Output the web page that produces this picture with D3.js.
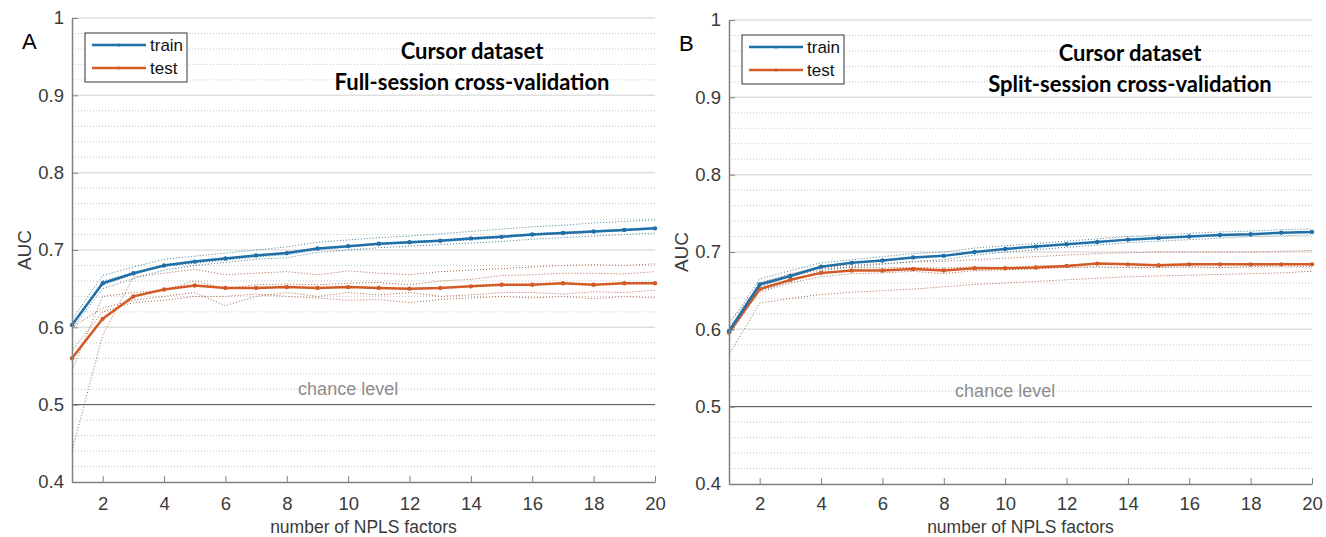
<!DOCTYPE html>
<html>
<head>
<meta charset="utf-8">
<script src="https://cdn.jsdelivr.net/npm/d3@7"></script>
<style>
  html, body { margin: 0; padding: 0; background: #fff; }
  svg { display: block; }
</style>
</head>
<body>
<svg id="chart" width="1326" height="537"></svg>
<script>
// NPLS factor counts on the x axis
const factors = d3.range(1, 21);
const xTicks = [2, 4, 6, 8, 10, 12, 14, 16, 18, 20];
const yTicks = [0.4, 0.5, 0.6, 0.7, 0.8, 0.9, 1];
const seriesNames = ["train", "test"];

// Panel A: full-session cross-validation (mean AUC)
const trainA = [0.603, 0.657, 0.670, 0.680, 0.685, 0.689, 0.693, 0.696, 0.702, 0.705,
                0.708, 0.710, 0.712, 0.715, 0.717, 0.720, 0.722, 0.724, 0.726, 0.728];
const testA  = [0.560, 0.611, 0.640, 0.649, 0.654, 0.651, 0.651, 0.652, 0.651, 0.652,
                0.651, 0.650, 0.651, 0.653, 0.655, 0.655, 0.657, 0.655, 0.657, 0.657];
// Panel A: individual folds
const trainFoldsA = [
  [0.610, 0.667, 0.678, 0.688, 0.692, 0.696, 0.700, 0.704, 0.710, 0.713, 0.716, 0.718, 0.721, 0.724, 0.727, 0.730, 0.732, 0.735, 0.737, 0.739],
  [0.598, 0.650, 0.663, 0.674, 0.680, 0.684, 0.688, 0.690, 0.697, 0.700, 0.703, 0.705, 0.707, 0.709, 0.711, 0.714, 0.716, 0.718, 0.720, 0.722],
  [0.603, 0.660, 0.670, 0.679, 0.683, 0.687, 0.691, 0.694, 0.700, 0.704, 0.707, 0.709, 0.711, 0.713, 0.716, 0.719, 0.721, 0.723, 0.725, 0.727],
  [0.605, 0.655, 0.668, 0.681, 0.686, 0.690, 0.694, 0.697, 0.702, 0.705, 0.708, 0.711, 0.713, 0.716, 0.718, 0.721, 0.723, 0.725, 0.727, 0.729]
];
const testFoldsA = [
  [0.440, 0.590, 0.665, 0.670, 0.675, 0.668, 0.670, 0.672, 0.668, 0.673, 0.670, 0.668, 0.672, 0.674, 0.676, 0.678, 0.680, 0.681, 0.680, 0.682],
  [0.545, 0.640, 0.645, 0.648, 0.660, 0.650, 0.655, 0.656, 0.655, 0.657, 0.658, 0.655, 0.660, 0.662, 0.667, 0.668, 0.670, 0.670, 0.669, 0.672],
  [0.600, 0.625, 0.635, 0.640, 0.645, 0.628, 0.640, 0.645, 0.640, 0.645, 0.642, 0.645, 0.640, 0.642, 0.645, 0.645, 0.643, 0.646, 0.645, 0.648],
  [0.570, 0.620, 0.632, 0.635, 0.640, 0.640, 0.643, 0.640, 0.638, 0.635, 0.636, 0.632, 0.636, 0.638, 0.640, 0.638, 0.640, 0.637, 0.640, 0.638]
];

// Panel B: split-session cross-validation (mean AUC)
const trainB = [0.598, 0.658, 0.669, 0.681, 0.686, 0.689, 0.693, 0.695, 0.700, 0.704,
                0.707, 0.710, 0.713, 0.716, 0.718, 0.720, 0.722, 0.723, 0.725, 0.726];
const testB  = [0.596, 0.652, 0.664, 0.673, 0.676, 0.676, 0.678, 0.676, 0.679, 0.679,
                0.680, 0.682, 0.685, 0.684, 0.683, 0.684, 0.684, 0.684, 0.684, 0.684];
// Panel B: individual folds
const trainFoldsB = [
  [0.605, 0.665, 0.676, 0.686, 0.690, 0.694, 0.698, 0.700, 0.705, 0.708, 0.711, 0.714, 0.717, 0.720, 0.722, 0.724, 0.726, 0.727, 0.729, 0.730],
  [0.592, 0.650, 0.662, 0.676, 0.681, 0.684, 0.688, 0.690, 0.696, 0.700, 0.703, 0.706, 0.709, 0.712, 0.714, 0.716, 0.718, 0.720, 0.721, 0.722],
  [0.598, 0.660, 0.670, 0.682, 0.686, 0.690, 0.693, 0.695, 0.700, 0.704, 0.707, 0.710, 0.713, 0.716, 0.718, 0.720, 0.722, 0.723, 0.725, 0.726]
];
const testFoldsB = [
  [0.567, 0.634, 0.640, 0.645, 0.648, 0.650, 0.652, 0.655, 0.658, 0.660, 0.662, 0.664, 0.666, 0.668, 0.669, 0.670, 0.671, 0.672, 0.673, 0.675],
  [0.600, 0.660, 0.672, 0.680, 0.683, 0.685, 0.687, 0.688, 0.690, 0.692, 0.694, 0.696, 0.698, 0.699, 0.700, 0.700, 0.700, 0.700, 0.701, 0.702],
  [0.610, 0.655, 0.668, 0.678, 0.680, 0.679, 0.680, 0.679, 0.681, 0.680, 0.682, 0.683, 0.685, 0.684, 0.682, 0.683, 0.684, 0.683, 0.684, 0.685],
  [0.600, 0.648, 0.660, 0.668, 0.672, 0.673, 0.675, 0.672, 0.676, 0.677, 0.678, 0.680, 0.681, 0.680, 0.680, 0.681, 0.680, 0.681, 0.682, 0.681]
];

const chanceLevel = 0.5;
const colors = { train: "#1f6fa8", test: "#d35a24" };
const foldColors = { train: "#2a6f8f", test: "#a0522d" };

const svg = d3.select("#chart");
const tickFont = "'Liberation Sans', Arial, sans-serif";

function drawPanel(cfg) {
  const x = d3.scaleLinear().domain([1, 20]).range([cfg.left, cfg.left + 583]);
  const y = d3.scaleLinear().domain([0.4, 1]).range([cfg.bottom, cfg.bottom - 464]);
  const g = svg.append("g");

  // minor dotted grid every 0.02
  const minor = d3.range(0.42, 1.0, 0.02).filter(v => Math.abs(v * 10 - Math.round(v * 10)) > 1e-6);
  g.selectAll(".minor").data(minor).join("line")
    .attr("x1", x(1)).attr("x2", x(20))
    .attr("y1", d => y(d)).attr("y2", d => y(d))
    .attr("stroke", "#c4c4c4").attr("stroke-width", 1)
    .attr("stroke-dasharray", "1,2");

  // major grid
  g.selectAll(".major").data([0.6, 0.7, 0.8, 0.9, 1]).join("line")
    .attr("x1", x(1)).attr("x2", x(20))
    .attr("y1", d => y(d)).attr("y2", d => y(d))
    .attr("stroke", "#e0e0e0").attr("stroke-width", 1.5);

  // chance level
  g.append("line")
    .attr("x1", x(1)).attr("x2", x(20))
    .attr("y1", y(chanceLevel)).attr("y2", y(chanceLevel))
    .attr("stroke", "#4a4a4a").attr("stroke-width", 1);
  g.append("text")
    .attr("x", x(10)).attr("y", y(chanceLevel) - 10)
    .attr("text-anchor", "middle")
    .attr("font-family", tickFont).attr("font-size", 18)
    .attr("fill", "#8c8c8c")
    .text("chance level");

  const line = d3.line().x((d, i) => x(factors[i])).y(d => y(d));

  // individual folds, thin dotted
  cfg.testFolds.forEach(f => g.append("path").datum(f).attr("d", line)
    .attr("fill", "none").attr("stroke", foldColors.test).attr("stroke-width", 1)
    .attr("stroke-dasharray", "1,2").attr("opacity", 0.9));
  cfg.trainFolds.forEach(f => g.append("path").datum(f).attr("d", line)
    .attr("fill", "none").attr("stroke", foldColors.train).attr("stroke-width", 1)
    .attr("stroke-dasharray", "1,2").attr("opacity", 0.9));

  // mean curves
  [["test", cfg.test], ["train", cfg.train]].forEach(([name, vals]) => {
    g.append("path").datum(vals).attr("d", line)
      .attr("fill", "none").attr("stroke", colors[name]).attr("stroke-width", 2.5)
      .attr("stroke-linejoin", "round");
    g.selectAll(".pt-" + name).data(vals).join("circle")
      .attr("cx", (d, i) => x(factors[i])).attr("cy", d => y(d))
      .attr("r", 2.2).attr("fill", colors[name]);
  });

  // axes
  const axisColor = "#808080";
  const xAxis = g.append("g").attr("transform", `translate(0,${cfg.bottom})`)
    .call(d3.axisBottom(x).tickValues(xTicks).tickSizeInner(-6).tickSizeOuter(0).tickPadding(cfg.xPad));
  const yAxis = g.append("g").attr("transform", `translate(${cfg.left},0)`)
    .call(d3.axisLeft(y).tickValues(yTicks).tickFormat(d3.format("~g")).tickSizeInner(-6).tickSizeOuter(0).tickPadding(8));
  [xAxis, yAxis].forEach(a => {
    a.select(".domain").attr("stroke", axisColor).attr("stroke-width", 1.5);
    a.selectAll(".tick line").attr("stroke", axisColor);
    a.selectAll(".tick text").attr("font-family", tickFont).attr("font-size", 18.5).attr("fill", "#3a3a3a");
  });

  // axis labels
  g.append("text")
    .attr("x", (x(1) + x(20)) / 2).attr("y", 533)
    .attr("text-anchor", "middle")
    .attr("font-family", tickFont).attr("font-size", 17.5).attr("fill", "#3a3a3a")
    .text("number of NPLS factors");
  g.append("text")
    .attr("transform", `translate(${cfg.left - 41},${(y(0.4) + y(1)) / 2}) rotate(-90)`)
    .attr("text-anchor", "middle")
    .attr("font-family", tickFont).attr("font-size", 19).attr("fill", "#3a3a3a")
    .text("AUC");

  // panel letter
  g.append("text")
    .attr("x", cfg.left - 50).attr("y", cfg.bottom - 433)
    .attr("font-family", tickFont).attr("font-size", 22).attr("fill", "#000")
    .text(cfg.letter);

  // title
  const title = g.append("text")
    .attr("text-anchor", "middle")
    .attr("font-family", "Lato, 'Open Sans', sans-serif").attr("font-weight", "bold")
    .attr("font-size", 22).attr("fill", "#000");
  title.append("tspan").attr("x", cfg.titleX).attr("y", cfg.bottom - 423).text("Cursor dataset");
  title.append("tspan").attr("x", cfg.titleX).attr("y", cfg.bottom - 392).text(cfg.subtitle);

  // legend
  const lg = g.append("g").attr("transform", `translate(${cfg.left + 13},${cfg.bottom - 449})`);
  lg.append("rect").attr("x", 0).attr("y", 0).attr("width", 102).attr("height", 49)
    .attr("fill", "#fff").attr("stroke", "#333").attr("stroke-width", 1);
  seriesNames.forEach((name, i) => {
    const ly = 12 + i * 23;
    lg.append("line").attr("x1", 7).attr("x2", 61).attr("y1", ly).attr("y2", ly)
      .attr("stroke", colors[name]).attr("stroke-width", 2.5);
    lg.append("circle").attr("cx", 34).attr("cy", ly).attr("r", 1.5).attr("fill", colors[name]);
    lg.append("text").attr("x", 65).attr("y", ly + 6)
      .attr("font-family", tickFont).attr("font-size", 17).attr("fill", "#111")
      .text(name);
  });
}

drawPanel({
  left: 72, bottom: 482, xPad: 15, letter: "A", titleX: 472,
  subtitle: "Full-session cross-validation",
  train: trainA, test: testA, trainFolds: trainFoldsA, testFolds: testFoldsA
});
drawPanel({
  left: 729, bottom: 484, xPad: 13, letter: "B", titleX: 1130,
  subtitle: "Split-session cross-validation",
  train: trainB, test: testB, trainFolds: trainFoldsB, testFolds: testFoldsB
});
</script>
</body>
</html>
